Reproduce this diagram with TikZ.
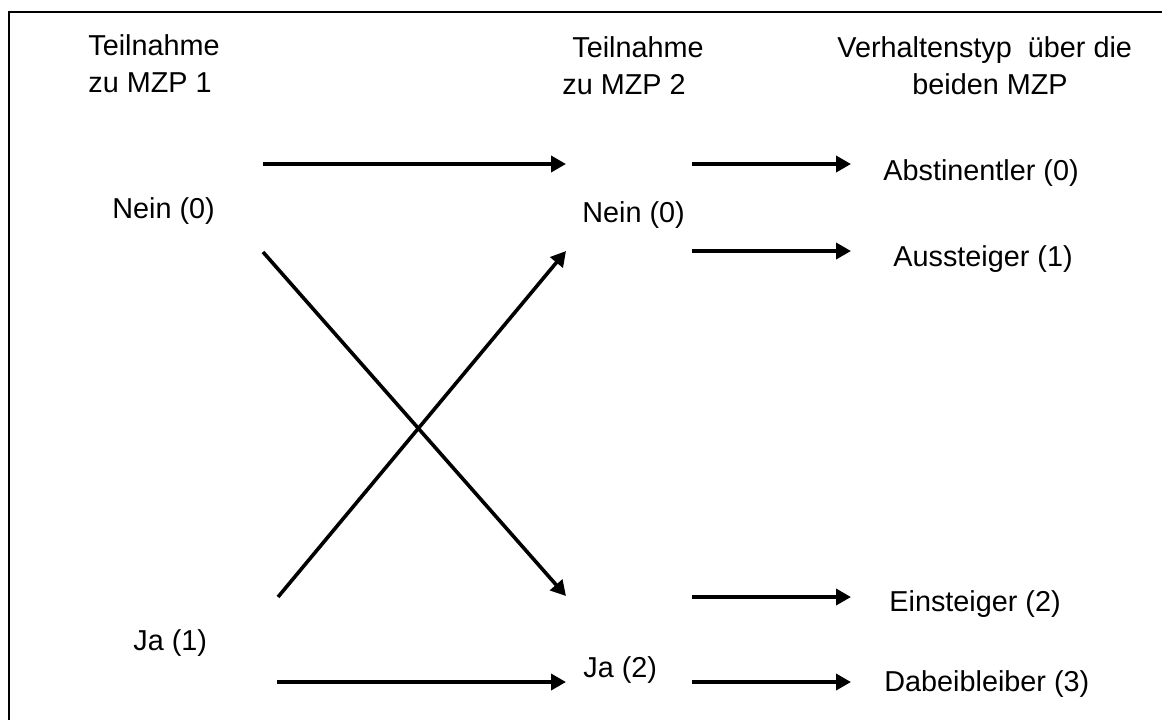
\documentclass[tikz,border=0pt]{standalone}
\usepackage{fontspec}
\setmainfont{Liberation Sans}
\usetikzlibrary{arrows.meta}
\begin{document}
\begin{tikzpicture}[x=0.5pt,y=-0.5pt,
  lbl/.style={anchor=base west,inner sep=0pt,font=\fontsize{14.4}{17}\selectfont},
  arr/.style={line width=1.8pt,-{Triangle[length=7.5pt,width=8pt]}},
  frame/.style={line width=1pt}]
\useasboundingbox (0,0) rectangle (1162,720);
\coordinate (fl) at (9,720);
\coordinate (ftl) at (9,12);
\coordinate (ftr) at (1162,12);
\draw[frame] (fl) -- (ftl) -- (ftr);
% headers
\node[lbl] (h1a) at (88,55) {Teilnahme};
\node[lbl] (h1b) at (88,92) {zu MZP 1};
\node[lbl] (h2a) at (572,57) {Teilnahme};
\node[lbl] (h2b) at (562,94) {zu MZP 2};
\node[lbl] (h3a) at (837,57) {Verhaltenstyp\ \ über die};
\node[lbl] (h3b) at (912,94) {beiden MZP};
% states
\node[lbl] (n1) at (112,218) {Nein (0)};
\node[lbl] (j1) at (133,650) {Ja (1)};
\node[lbl] (n2) at (582,222) {Nein (0)};
\node[lbl] (j2) at (583,677) {Ja (2)};
% outcomes
\node[lbl] (o0) at (883,180) {Abstinentler (0)};
\node[lbl] (o1) at (893,266) {Aussteiger (1)};
\node[lbl] (o2) at (889,611) {Einsteiger (2)};
\node[lbl] (o3) at (884,691) {Dabeibleiber (3)};
% arrow end points
\coordinate (a1s) at (263,164); \coordinate (a1e) at (566,164);
\coordinate (a2s) at (263,252); \coordinate (a2e) at (566,596);
\coordinate (a3s) at (278,597); \coordinate (a3e) at (566,251);
\coordinate (a4s) at (277,682); \coordinate (a4e) at (566,682);
\coordinate (r0s) at (692,164); \coordinate (r0e) at (851,164);
\coordinate (r1s) at (692,251); \coordinate (r1e) at (851,251);
\coordinate (r2s) at (692,597); \coordinate (r2e) at (851,597);
\coordinate (r3s) at (692,682); \coordinate (r3e) at (851,682);
\draw[arr] (a1s) -- (a1e);
\draw[arr] (a2s) -- (a2e);
\draw[arr] (a3s) -- (a3e);
\draw[arr] (a4s) -- (a4e);
\draw[arr] (r0s) -- (r0e);
\draw[arr] (r1s) -- (r1e);
\draw[arr] (r2s) -- (r2e);
\draw[arr] (r3s) -- (r3e);
\end{tikzpicture}
\end{document}
